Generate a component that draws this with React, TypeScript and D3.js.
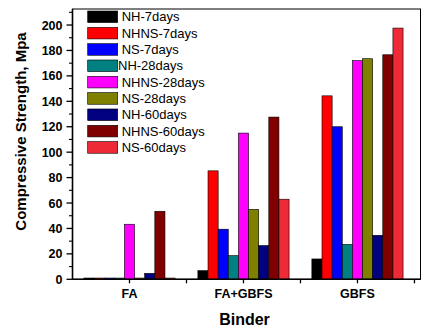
import React from "react";
import * as d3 from "d3";

const categories = ["FA", "FA+GBFS", "GBFS"];
const seriesNames = [
  "NH-7days", "NHNS-7days", "NS-7days",
  "NH-28days", "NHNS-28days", "NS-28days",
  "NH-60days", "NHNS-60days", "NS-60days",
];
const seriesColors = [
  "#000000", "#ff0000", "#0000ff",
  "#008080", "#ff00ff", "#808000",
  "#000080", "#800000", "#ee2a36",
];
// values per series: [FA, FA+GBFS, GBFS]
const nh7 = [1, 6.8, 16];
const nhns7 = [1, 85.3, 144.3];
const ns7 = [1, 39.4, 120];
const nh28 = [1, 18.6, 27.5];
const nhns28 = [43.3, 115, 172];
const ns28 = [1, 55, 173.5];
const nh60 = [4.7, 26.5, 34.6];
const nhns60 = [53.5, 127.6, 176.6];
const ns60 = [1, 63, 197.6];
const seriesValues = [nh7, nhns7, ns7, nh28, nhns28, ns28, nh60, nhns60, ns60];
const yTicks = [0, 20, 40, 60, 80, 100, 120, 140, 160, 180, 200];

const FONT = "Arial, 'Liberation Sans', sans-serif";

export default function App() {
  const left = 72.5, right = 420.5, top = 9, bottom = 279.3;
  const x = d3.scaleLinear().domain([0.5, 3.553]).range([left, right]);
  const y = d3.scaleLinear().domain([0, 212.6]).range([bottom, top]);
  const groupW = 0.8;
  const barW = groupW / seriesNames.length;
  const minorY = d3.range(10, 211, 20);
  const xTicks = [1, 1.5, 2, 2.5, 3, 3.5];

  return (
    <svg width={437} height={329} style={{ position: "absolute", left: 0, top: 0 }}>
      <rect x={0} y={0} width={437} height={329} fill="#fff" />
      {seriesValues.map((vals, si) =>
        vals.map((v, ci) => {
          const x0 = x(ci + 1 - groupW / 2 + si * barW);
          const x1 = x(ci + 1 - groupW / 2 + (si + 1) * barW);
          return (
            <rect
              key={`${si}-${ci}`}
              x={x0}
              y={y(v)}
              width={x1 - x0}
              height={y(0) - y(v)}
              fill={seriesColors[si]}
              stroke="#000"
              strokeWidth={0.6}
            />
          );
        })
      )}
      {/* frame */}
      <rect x={left} y={top} width={right - left} height={bottom - top} fill="none" stroke="#000" strokeWidth={1} />
      <line x1={left} x2={left} y1={top} y2={bottom} stroke="#000" strokeWidth={1.6} />
      <line x1={left} x2={right} y1={bottom} y2={bottom} stroke="#000" strokeWidth={1.6} />
      {/* y ticks */}
      {yTicks.map((t) => (
        <g key={t}>
          <line x1={left - 6} x2={left} y1={y(t)} y2={y(t)} stroke="#000" strokeWidth={1.3} />
          <text x={left - 10} y={y(t)} dy="0.36em" textAnchor="end" fontFamily={FONT} fontWeight="bold" fontSize={12.5}>
            {t}
          </text>
        </g>
      ))}
      {minorY.map((t) => (
        <line key={"m" + t} x1={left - 3.5} x2={left} y1={y(t)} y2={y(t)} stroke="#000" strokeWidth={1.1} />
      ))}
      {/* x ticks */}
      {xTicks.map((t) => (
        <line key={"x" + t} x1={x(t)} x2={x(t)} y1={bottom} y2={bottom + 4} stroke="#000" strokeWidth={1.3} />
      ))}
      {categories.map((c, i) => (
        <text key={c} x={x(i + 1)} y={298} textAnchor="middle" fontFamily={FONT} fontWeight="bold" fontSize={12.5}>
          {c}
        </text>
      ))}
      <text x={(left + right) / 2 - 2} y={325} textAnchor="middle" fontFamily={FONT} fontWeight="bold" fontSize={16}>
        Binder
      </text>
      <text
        transform={`translate(25.5,131.5) rotate(-90)`}
        textAnchor="middle"
        fontFamily={FONT}
        fontWeight="bold"
        fontSize={15}
      >
        Compressive Strength, Mpa
      </text>
      {/* legend */}
      {seriesNames.map((n, i) => {
        const cy = 16.8 + i * 16.33;
        return (
          <g key={n}>
            <rect x={87.7} y={cy - 5.8} width={30} height={11.6} fill={seriesColors[i]} stroke="#000" strokeWidth={0.6} />
            <text x={i === 3 ? 118 : 121.7} y={cy} dy="0.36em" fontFamily={FONT} fontSize={13}>
              {n}
            </text>
          </g>
        );
      })}
    </svg>
  );
}
